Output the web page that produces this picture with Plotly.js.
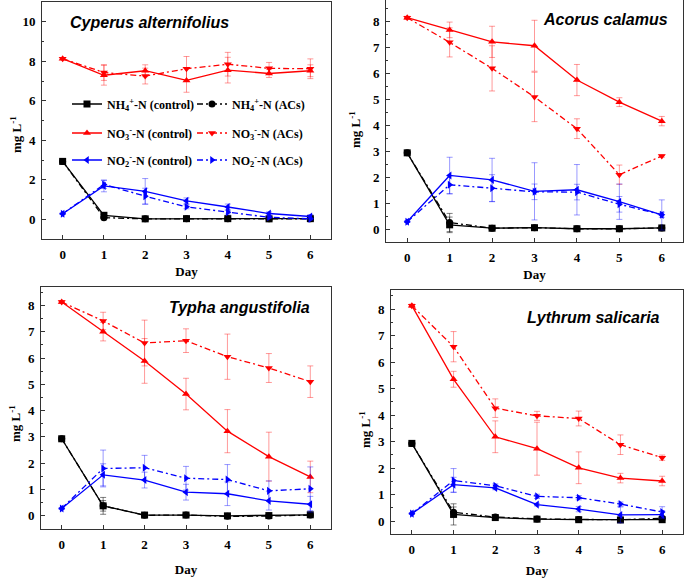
<!DOCTYPE html>
<html>
<head>
<meta charset="utf-8">
<script src="https://cdn.plot.ly/plotly-3.0.1.min.js"></script>
<style>html,body{margin:0;padding:0;background:#fff;}#chart{width:685px;height:578px;}</style>
</head>
<body>
<div id="chart"></div>
<script>
// ---- data ----
var days = [0, 1, 2, 3, 4, 5, 6];
var panelNames = ["Cyperus alternifolius", "Acorus calamus", "Typha angustifolia", "Lythrum salicaria"];
var seriesNames = [
  "NH<sub>4</sub><sup>+</sup>-N (control)", "NH<sub>4</sub><sup>+</sup>-N (ACs)",
  "NO<sub>3</sub><sup>-</sup>-N (control)", "NO<sub>3</sub><sup>-</sup>-N (ACs)",
  "NO<sub>2</sub><sup>-</sup>-N (control)", "NO<sub>2</sub><sup>-</sup>-N (ACs)"
];
var xTitle = "Day";
var yTitle = "mg L<sup>-1</sup>";

// Cyperus alternifolius
var cypNH4ctrl = [2.93, 0.20, 0.02, 0.03, 0.03, 0.02, 0.03];
var cypNH4acs  = [2.93, 0.08, 0.02, 0.03, 0.02, 0.02, 0.02];
var cypNO3ctrl = [8.13, 7.29, 7.52, 7.03, 7.55, 7.38, 7.52];
var cypNO3acs  = [8.13, 7.43, 7.25, 7.62, 7.85, 7.64, 7.62];
var cypNO2ctrl = [0.28, 1.69, 1.41, 0.93, 0.62, 0.29, 0.14];
var cypNO2acs  = [0.28, 1.76, 1.17, 0.63, 0.36, 0.10, 0.02];
var cypNH4ctrlErr = [0.03, 0.08, 0.02, 0.02, 0.02, 0.02, 0.02];
var cypNH4acsErr  = [0.03, 0.05, 0.02, 0.02, 0.02, 0.02, 0.02];
var cypNO3ctrlErr = [0.05, 0.50, 0.30, 0.60, 0.65, 0.20, 0.30];
var cypNO3acsErr  = [0.05, 0.40, 0.40, 0.62, 0.60, 0.30, 0.50];
var cypNO2ctrlErr = [0.03, 0.30, 0.65, 0.15, 0.15, 0.08, 0.10];
var cypNO2acsErr  = [0.03, 0.20, 0.40, 0.10, 0.10, 0.05, 0.05];

// Acorus calamus
var acoNH4ctrl = [2.93, 0.16, 0.03, 0.05, 0.01, 0.01, 0.04];
var acoNH4acs  = [2.93, 0.25, 0.03, 0.05, 0.01, 0.01, 0.04];
var acoNO3ctrl = [8.13, 7.66, 7.20, 7.05, 5.73, 4.88, 4.15];
var acoNO3acs  = [8.13, 7.18, 6.18, 5.08, 3.86, 2.09, 2.81];
var acoNO2ctrl = [0.28, 2.06, 1.89, 1.45, 1.51, 1.05, 0.54];
var acoNO2acs  = [0.28, 1.70, 1.57, 1.43, 1.42, 0.95, 0.55];
var acoNH4ctrlErr = [0.03, 0.30, 0.03, 0.03, 0.02, 0.02, 0.03];
var acoNH4acsErr  = [0.03, 0.35, 0.03, 0.03, 0.02, 0.02, 0.03];
var acoNO3ctrlErr = [0.05, 0.30, 0.60, 0.98, 0.60, 0.17, 0.18];
var acoNO3acsErr  = [0.05, 0.56, 0.87, 0.95, 0.38, 0.37, 0.05];
var acoNO2ctrlErr = [0.03, 0.70, 0.83, 1.10, 0.97, 0.68, 0.58];
var acoNO2acsErr  = [0.03, 0.35, 0.52, 0.30, 0.30, 0.30, 0.10];

// Typha angustifolia
var typNH4ctrl = [2.93, 0.38, 0.03, 0.03, 0.00, 0.01, 0.04];
var typNH4acs  = [2.93, 0.38, 0.02, 0.03, -0.02, -0.01, 0.03];
var typNO3ctrl = [8.13, 7.00, 5.89, 4.63, 3.22, 2.25, 1.48];
var typNO3acs  = [8.13, 7.41, 6.57, 6.66, 6.05, 5.62, 5.10];
var typNO2ctrl = [0.28, 1.56, 1.36, 0.90, 0.84, 0.57, 0.44];
var typNO2acs  = [0.28, 1.80, 1.83, 1.43, 1.38, 0.95, 1.03];
var typNH4ctrlErr = [0.03, 0.32, 0.03, 0.03, 0.03, 0.03, 0.03];
var typNH4acsErr  = [0.03, 0.20, 0.03, 0.03, 0.03, 0.03, 0.03];
var typNO3ctrlErr = [0.05, 0.35, 0.85, 0.60, 0.82, 0.93, 0.60];
var typNO3acsErr  = [0.05, 0.33, 0.87, 0.45, 0.86, 0.55, 0.60];
var typNO2ctrlErr = [0.03, 0.42, 0.30, 0.30, 0.45, 0.35, 0.30];
var typNO2acsErr  = [0.03, 0.70, 0.47, 0.45, 0.57, 0.38, 0.83];

// Lythrum salicaria
var lytNH4ctrl = [2.93, 0.25, 0.13, 0.07, 0.05, 0.04, 0.05];
var lytNH4acs  = [2.93, 0.33, 0.15, 0.08, 0.06, 0.05, 0.10];
var lytNO3ctrl = [8.13, 5.35, 3.18, 2.73, 2.01, 1.62, 1.51];
var lytNO3acs  = [8.13, 6.58, 4.26, 3.97, 3.87, 2.88, 2.39];
var lytNO2ctrl = [0.28, 1.37, 1.25, 0.62, 0.45, 0.23, 0.24];
var lytNO2acs  = [0.28, 1.53, 1.33, 0.93, 0.88, 0.64, 0.34];
var lytNH4ctrlErr = [0.03, 0.40, 0.03, 0.03, 0.03, 0.03, 0.03];
var lytNH4acsErr  = [0.03, 0.20, 0.03, 0.03, 0.03, 0.03, 0.08];
var lytNO3ctrlErr = [0.05, 0.30, 0.60, 1.00, 0.60, 0.18, 0.18];
var lytNO3acsErr  = [0.05, 0.57, 0.35, 0.17, 0.28, 0.37, 0.10];
var lytNO2ctrlErr = [0.03, 0.28, 0.07, 0.05, 0.10, 0.30, 0.15];
var lytNO2acsErr  = [0.03, 0.45, 0.07, 0.08, 0.08, 0.08, 0.20];

// ---- build ----
var panels = [
  {vals:[cypNH4ctrl,cypNH4acs,cypNO3ctrl,cypNO3acs,cypNO2ctrl,cypNO2acs],
   errs:[cypNH4ctrlErr,cypNH4acsErr,cypNO3ctrlErr,cypNO3acsErr,cypNO2ctrlErr,cypNO2acsErr]},
  {vals:[acoNH4ctrl,acoNH4acs,acoNO3ctrl,acoNO3acs,acoNO2ctrl,acoNO2acs],
   errs:[acoNH4ctrlErr,acoNH4acsErr,acoNO3ctrlErr,acoNO3acsErr,acoNO2ctrlErr,acoNO2acsErr]},
  {vals:[typNH4ctrl,typNH4acs,typNO3ctrl,typNO3acs,typNO2ctrl,typNO2acs],
   errs:[typNH4ctrlErr,typNH4acsErr,typNO3ctrlErr,typNO3acsErr,typNO2ctrlErr,typNO2acsErr]},
  {vals:[lytNH4ctrl,lytNH4acs,lytNO3ctrl,lytNO3acs,lytNO2ctrl,lytNO2acs],
   errs:[lytNH4ctrlErr,lytNH4acsErr,lytNO3ctrlErr,lytNO3acsErr,lytNO2ctrlErr,lytNO2acsErr]}
];

var colors = ['#000000','#000000','#ff0000','#ff0000','#0000ff','#0000ff'];
var errColors = ['rgba(0,0,0,0.5)','rgba(0,0,0,0.5)','rgba(255,0,0,0.4)','rgba(255,0,0,0.4)','rgba(0,0,255,0.4)','rgba(0,0,255,0.4)'];
var symbols = ['square','circle','triangle-up','triangle-down','triangle-left','triangle-right'];
var dashes = ['solid','6px,3px,2px,3px','solid','6px,3px,2px,3px','solid','6px,3px,2px,3px'];
var legendIds = ['legend','legend','legend2','legend2','legend3','legend3'];

var traces = [];
panels.forEach(function(p, pi){
  var ax = pi === 0 ? '' : String(pi+1);
  for (var s = 0; s < 6; s++) {
    traces.push({
      type:'scatter', mode:'lines+markers',
      x: days, y: p.vals[s],
      xaxis:'x'+ax, yaxis:'y'+ax,
      name: seriesNames[s],
      legend: legendIds[s],
      showlegend: pi === 0,
      line:{color:colors[s], width:1.3, dash:dashes[s]},
      marker:{symbol:symbols[s], size:7, color:colors[s]},
      error_y:{type:'data', array:p.errs[s], visible:true, color:errColors[s], thickness:1, width:3}
    });
  }
});

var W = 685, H = 578;
function dx(a,b){ return [a/W, b/W]; }
function dy(top,bottom){ return [1-bottom/H, 1-top/H]; }

var SERIF = "Liberation Serif";
function tf(sz){ return {family:SERIF, size:sz || 13, color:'#000', weight:'bold'}; }

function xax(domain, anchor, standoff){
  return {domain:domain, anchor:anchor, range:[-0.5,6.5], tickvals:days, ticks:'inside', ticklen:4, tickwidth:1, tickcolor:'#333',
    ticklabelstandoff:3,
    showline:true, linecolor:'#333', linewidth:1, mirror:true, showgrid:false, zeroline:false,
    tickfont:tf(), title:{text:xTitle, font:tf(), standoff:standoff}};
}
function yax(domain, anchor, range, dtick, minor){
  return {domain:domain, anchor:anchor, range:range, dtick:dtick, tick0:0, ticks:'inside', ticklen:4, tickwidth:1, tickcolor:'#333',
    ticklabelstandoff:3,
    showline:true, linecolor:'#333', linewidth:1, mirror:true, showgrid:false, zeroline:false,
    minor:{dtick:minor, ticks:'inside', ticklen:2, tickcolor:'#333', showgrid:false},
    tickfont:tf()};
}

function leg(yPx){
  return {orientation:'h', xanchor:'left', yanchor:'middle', bgcolor:'rgba(0,0,0,0)',
    font:tf(12), entrywidth:80, entrywidthmode:'pixels', itemwidth:30, traceorder:'normal',
    x:67/W, y:1 - yPx/H};
}

function titleStyle(){ return {family:"Liberation Sans", size:16, color:'#000', weight:'bold', style:'italic'}; }
function panelTitle(i, xPx, yPx, anchor){
  return {text:panelNames[i], xref:'paper', yref:'paper', x:xPx/W, y:1-yPx/H, xanchor:anchor, yanchor:'middle', showarrow:false, font:titleStyle()};
}
function yLabel(xPx, yPx){
  return {text:yTitle, xref:'paper', yref:'paper', x:xPx/W, y:1-yPx/H, xanchor:'center', yanchor:'middle', textangle:-90, showarrow:false, font:tf()};
}

var layout = {
  width:W, height:H, margin:{l:0,r:0,t:0,b:0}, paper_bgcolor:'#fff', plot_bgcolor:'#fff',
  showlegend:true,
  xaxis: xax(dx(42,331),'y',6),
  yaxis: yax(dy(2,239),'x',[-1,11],2,1),
  xaxis2: xax(dx(386,683),'y2',6),
  yaxis2: yax(dy(0,242),'x2',[-0.5,8.81],1,0.5),
  xaxis3: xax(dx(41,331),'y3',14),
  yaxis3: yax(dy(287,529),'x3',[-0.5,8.7],1,0.5),
  xaxis4: xax(dx(391,683),'y4',14),
  yaxis4: yax(dy(290,534),'x4',[-0.49,8.72],1,0.5),
  legend: leg(104), legend2: leg(133), legend3: leg(160),
  annotations: [
    panelTitle(0, 68, 22, 'left'),
    panelTitle(1, 670, 20, 'right'),
    panelTitle(2, 312, 308, 'right'),
    panelTitle(3, 662, 317, 'right'),
    yLabel(16, 134), yLabel(355, 130), yLabel(15, 424), yLabel(365, 430)
  ]
};

Plotly.newPlot('chart', traces, layout, {displayModeBar:false, staticPlot:true});
</script>
</body>
</html>
